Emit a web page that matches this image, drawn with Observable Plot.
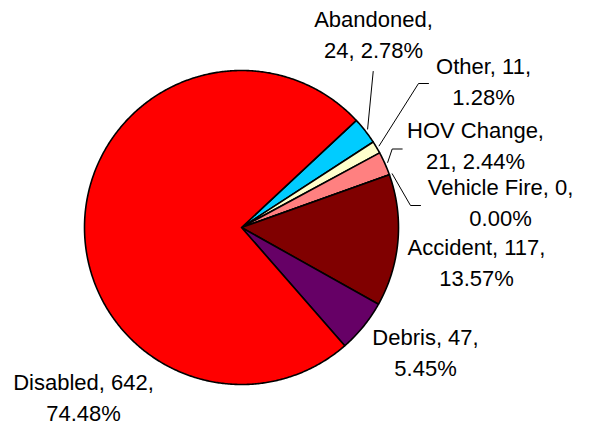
<!DOCTYPE html>
<html>
<head>
<meta charset="utf-8">
<script src="https://cdn.jsdelivr.net/npm/d3@7"></script>
<script src="https://cdn.jsdelivr.net/npm/@observablehq/plot@0.6"></script>
<style>
  html, body { margin: 0; padding: 0; background: #fff; }
  #chart { width: 592px; height: 425px; }
</style>
</head>
<body>
<div id="chart"></div>
<script>
// ---- data ----
const categories = ["Abandoned", "Other", "HOV Change", "Vehicle Fire", "Accident", "Debris", "Disabled"];
const counts     = [24, 11, 21, 0, 117, 47, 642];
const percents   = ["2.78%", "1.28%", "2.44%", "0.00%", "13.57%", "5.45%", "74.48%"];
const colors     = ["#00CCFF", "#FFFFCC", "#FF8080", "#FF6600", "#800000", "#660066", "#FF0000"];

// ---- layout (pie geometry and Excel label placement) ----
const cx = 241, cy = 227, R = 157;
const startDeg = 47;
const labelLines = [
  ["Abandoned,", "24, 2.78%"],
  ["Other, 11,", "1.28%"],
  ["HOV Change,", "21, 2.44%"],
  ["Vehicle Fire, 0,", "0.00%"],
  ["Accident, 117,", "13.57%"],
  ["Debris, 47,", "5.45%"],
  ["Disabled, 642,", "74.48%"]
];
const labelX = [373, 483, 475, 500, 476, 425, 83];
const labelY = [57, 104, 168, 225, 285, 375, 420];   // baseline of last line
const leaderPath = [
  [[372.7, 71]],
  [[418, 83], [428, 83]],
  [[391.7, 148.5], [401.7, 148.5]],
  [[410, 205], [420, 205]],
  null, null, null
];

const total = d3.sum(counts);
const toRad = d => d * Math.PI / 180;
const polar = (deg, r) => ({x: cx + r * Math.sin(toRad(deg)), y: cy - r * Math.cos(toRad(deg))});

// slice angles from data
let acc = startDeg;
const slices = categories.map((name, i) => {
  const a0 = acc, a1 = acc + counts[i] / total * 360;
  acc = a1;
  return {name, a0, a1, mid: (a0 + a1) / 2, color: colors[i]};
});

const slicePts = [];
for (const s of slices) {
  slicePts.push({name: s.name, color: s.color, x: cx, y: cy});
  const n = Math.max(1, Math.ceil((s.a1 - s.a0) / 0.5));
  for (let k = 0; k <= n; ++k) {
    const p = polar(s.a0 + (s.a1 - s.a0) * k / n, R);
    slicePts.push({name: s.name, color: s.color, x: p.x, y: p.y});
  }
  slicePts.push({name: s.name, color: s.color, x: cx, y: cy});
}

const leaderPts = [];
slices.forEach((s, i) => {
  if (!leaderPath[i]) return;
  const p = polar(s.mid, R + 3);
  leaderPts.push({name: s.name, x: p.x, y: p.y});
  for (const [x, y] of leaderPath[i]) leaderPts.push({name: s.name, x, y});
});

const labels = categories.map((name, i) => ({
  name, x: labelX[i], y: labelY[i], text: labelLines[i].join("\n")
}));

const chart = Plot.plot({
  width: 592,
  height: 425,
  margin: 0,
  x: {type: "identity", axis: null},
  y: {type: "identity", axis: null},
  color: {type: "identity"},
  style: {fontFamily: "'Liberation Sans', Arial, sans-serif", background: "#fff"},
  marks: [
    Plot.line(slicePts, {x: "x", y: "y", z: "name", fill: "color", stroke: "black", strokeWidth: 1.6, curve: "linear", strokeLinejoin: "round"}),
    Plot.line(leaderPts, {x: "x", y: "y", z: "name", stroke: "black", strokeWidth: 1, curve: "linear"}),
    Plot.text(labels, {x: "x", y: "y", text: "text", lineAnchor: "bottom", lineHeight: 1.386, fontSize: 22, fill: "black", textAnchor: "middle"})
  ]
});
document.getElementById("chart").appendChild(chart);
</script>
</body>
</html>
